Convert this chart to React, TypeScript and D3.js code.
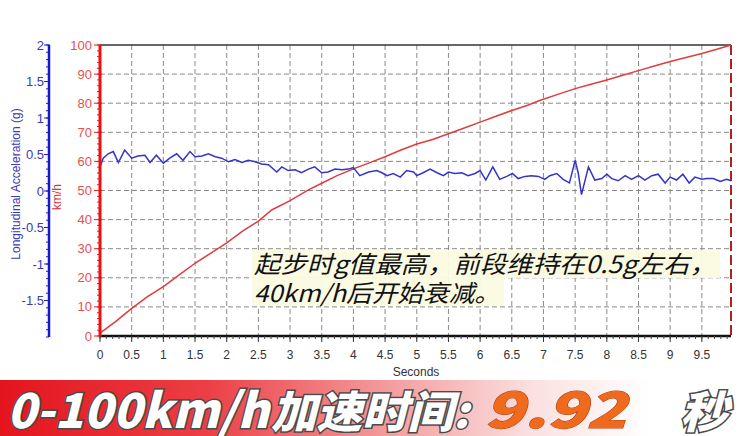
import React from "react";
import * as d3 from "d3";

const accelTime = [
  0, 0.05, 0.13, 0.21, 0.29, 0.39, 0.5, 0.6, 0.71, 0.79,
  0.89, 1.0, 1.1, 1.21, 1.31, 1.42, 1.5, 1.61, 1.71, 1.82,
  1.92, 2.03, 2.13, 2.24, 2.34, 2.45, 2.55, 2.66, 2.79, 2.87,
  2.97, 3.08, 3.18, 3.29, 3.39, 3.5, 3.6, 3.71, 3.82, 3.92,
  4.0, 4.1, 4.24, 4.37, 4.45, 4.53, 4.63, 4.74, 4.84, 4.95,
  5.0, 5.1, 5.21, 5.32, 5.42, 5.5, 5.6, 5.71, 5.81, 5.92,
  6.0, 6.09, 6.2, 6.31, 6.42, 6.51, 6.6, 6.71, 6.81, 6.92,
  7.02, 7.1, 7.21, 7.31, 7.41, 7.5, 7.55, 7.6, 7.71, 7.81,
  7.92, 8.0, 8.08, 8.18, 8.29, 8.39, 8.5, 8.6, 8.71, 8.81,
  8.92, 9.0, 9.1, 9.2, 9.3, 9.39, 9.5, 9.58, 9.68, 9.79,
  9.89, 9.96,
];
const accelG = [
  0.33, 0.45, 0.51, 0.54, 0.39, 0.56, 0.45, 0.48, 0.49, 0.39,
  0.49, 0.38, 0.45, 0.51, 0.42, 0.54, 0.47, 0.48, 0.51, 0.47,
  0.45, 0.4, 0.43, 0.39, 0.42, 0.4, 0.37, 0.36, 0.26, 0.33,
  0.28, 0.29, 0.25, 0.3, 0.33, 0.25, 0.26, 0.3, 0.29, 0.3,
  0.32, 0.21, 0.26, 0.28, 0.25, 0.21, 0.24, 0.19, 0.28, 0.26,
  0.21, 0.25, 0.3, 0.25, 0.21, 0.26, 0.24, 0.25, 0.21, 0.24,
  0.28, 0.15, 0.33, 0.16, 0.2, 0.24, 0.17, 0.2, 0.21, 0.2,
  0.16, 0.21, 0.24, 0.16, 0.11, 0.42, 0.24, -0.05, 0.33, 0.15,
  0.17, 0.23, 0.17, 0.14, 0.21, 0.16, 0.21, 0.15, 0.21, 0.23,
  0.11, 0.19, 0.15, 0.23, 0.11, 0.19, 0.16, 0.17, 0.17, 0.13,
  0.16, 0.14,
];

const speedTime = [
  0, 0.25, 0.5, 0.75, 1.0, 1.25, 1.5, 1.75, 2.0, 2.25, 2.5, 2.71, 3.0, 3.29,
  3.5, 3.75, 4.03, 4.25, 4.5, 4.75, 5.0, 5.25, 5.5, 5.75, 6.0, 6.25, 6.5,
  6.75, 6.95, 7.25, 7.5, 7.75, 8.0, 8.25, 8.5, 8.75, 9.0, 9.25, 9.5, 9.75, 9.96,
];
const speedKmh = [
  1, 5, 9.5, 13.5, 17, 21, 25, 28.5, 32, 36, 39.5, 43.3, 46.5, 50.2,
  52.5, 55.2, 57.7, 59.5, 61.6, 63.9, 66, 67.5, 69.5, 71.5, 73.5, 75.5, 77.5,
  79.3, 81, 83.2, 85, 86.5, 88, 89.6, 91.2, 92.8, 94.3, 95.7, 97.1, 98.6, 100,
];

const gTickLabels = ["2", "1.5", "1", "0.5", "0", "-0.5", "-1", "-1.5"];
const gTickValues = [2, 1.5, 1, 0.5, 0, -0.5, -1, -1.5];
const speedTickValues = [0, 10, 20, 30, 40, 50, 60, 70, 80, 90, 100];
const timeTickValues = [0, 0.5, 1, 1.5, 2, 2.5, 3, 3.5, 4, 4.5, 5, 5.5, 6, 6.5, 7, 7.5, 8, 8.5, 9, 9.5];

const noteLine1 = "起步时g值最高，前段维持在0.5g左右，";
const noteLine2 = "40km/h后开始衰减。";
const bannerLabel = "0-100km/h";
const bannerLabel2 = "加速时间:";
const bannerValue = "9.92";
const bannerUnit = "秒";

const W = 739;
const H = 436;
const L = 100;
const R = 731;
const T = 45;
const B = 336;

export default function App() {
  const x = d3.scaleLinear().domain([0, 9.96]).range([L, R]);
  const yS = d3.scaleLinear().domain([0, 100]).range([B, T]);
  const yG = d3.scaleLinear().domain([-2, 2]).range([337, T]);

  const speedLine = d3
    .line<number>()
    .x((_, i) => x(speedTime[i]))
    .y((d) => yS(d));
  const accelLine = d3
    .line<number>()
    .x((_, i) => x(accelTime[i]))
    .y((d) => yG(d));

  const minorG = d3.range(-2, 2.0001, 0.1);
  const minorS = d3.range(0, 100.001, 2);
  const minorT = d3.range(0, 9.96, 0.1);

  const axisFont = "'Liberation Sans', Arial, sans-serif";
  const cjk = "'Noto Sans CJK SC', sans-serif";

  return (
    <svg
      width={W}
      height={H}
      style={{ position: "absolute", left: 0, top: 0, background: "#fff" }}
    >
      <defs>
        <linearGradient id="bannerGrad" x1="0" x2="1" y1="0" y2="0">
          <stop offset="0%" stopColor="#e4141d" />
          <stop offset="28%" stopColor="#ec3f45" />
          <stop offset="52%" stopColor="#f49a9c" />
          <stop offset="72%" stopColor="#fbe0e0" />
          <stop offset="88%" stopColor="#ffffff" />
          <stop offset="100%" stopColor="#ffffff" />
        </linearGradient>
      </defs>
      <rect x={0} y={0} width={W} height={H} fill="#fff" />

      {/* grid */}
      {speedTickValues.slice(1, -1).map((v) => (
        <line key={"hg" + v} x1={L} x2={R} y1={yS(v)} y2={yS(v)} stroke="#8a8a8a" strokeDasharray="5 3" strokeWidth={1} />
      ))}
      {timeTickValues.slice(1).map((v) => (
        <line key={"vg" + v} x1={x(v)} x2={x(v)} y1={T} y2={B} stroke="#8a8a8a" strokeDasharray="5 3" strokeWidth={1} />
      ))}

      {/* frame */}
      <line x1={L} x2={R} y1={T} y2={T} stroke="#333" strokeWidth={1.5} />
      <line x1={R} x2={R} y1={T} y2={B} stroke="#b02020" strokeWidth={2} strokeDasharray="10 4" />

      {/* annotation */}
      <rect x={252} y={250} width={468} height={28} fill="#fbfbe2" opacity={0.95} />
      <rect x={252} y={278} width={252} height={28} fill="#fbfbe2" opacity={0.95} />
      <text x={254} y={273} fontFamily={cjk} fontSize={24} fontStyle="italic" fill="#111" textLength={462} lengthAdjust="spacingAndGlyphs">
        {noteLine1}
      </text>
      <text x={254} y={302} fontFamily={cjk} fontSize={24} fontStyle="italic" fill="#111" textLength={246} lengthAdjust="spacingAndGlyphs">
        {noteLine2}
      </text>

      {/* data lines */}
      <path d={speedLine(speedKmh) || ""} fill="none" stroke="#e03c3c" strokeWidth={1.5} />
      <path d={accelLine(accelG) || ""} fill="none" stroke="#3434c8" strokeWidth={1.5} />

      {/* x axis */}
      <line x1={L - 1} x2={R} y1={B} y2={B} stroke="#111" strokeWidth={2.5} />
      {minorT.map((v, i) => (
        <line key={"mt" + i} x1={x(v)} x2={x(v)} y1={B} y2={B + 3} stroke="#444" strokeWidth={1} />
      ))}
      {timeTickValues.map((v) => (
        <g key={"xt" + v}>
          <line x1={x(v)} x2={x(v)} y1={B} y2={B + 6} stroke="#333" strokeWidth={1} />
          <text x={x(v)} y={359} textAnchor="middle" fontFamily={axisFont} fontSize={12} fill="#333">
            {String(v)}
          </text>
        </g>
      ))}
      <text x={416} y={376} textAnchor="middle" fontFamily={axisFont} fontSize={12} fill="#333">
        Seconds
      </text>

      {/* red speed axis */}
      {minorS.map((v, i) => (
        <line key={"ms" + i} x1={L - 3} x2={L} y1={yS(v)} y2={yS(v)} stroke="#e02020" strokeWidth={1} />
      ))}
      {speedTickValues.map((v) => (
        <g key={"st" + v}>
          <line x1={L - 6} x2={L + 2} y1={yS(v)} y2={yS(v)} stroke="#e02020" strokeWidth={1} />
          <text x={92} y={yS(v) + 4.5} textAnchor="end" fontFamily={axisFont} fontSize={13} fill="#e85050">
            {String(v)}
          </text>
        </g>
      ))}
      <line x1={L} x2={L} y1={T} y2={B} stroke="#ee1010" strokeWidth={3} />
      <text transform={`translate(61,197) rotate(-90)`} textAnchor="middle" fontFamily={axisFont} fontSize={12} fill="#e03030">
        km/h
      </text>

      {/* blue g axis */}
      {minorG.map((v, i) => (
        <line key={"mg" + i} x1={46} x2={49} y1={yG(v)} y2={yG(v)} stroke="#2020c0" strokeWidth={1} />
      ))}
      {gTickValues.map((v, i) => (
        <g key={"gt" + v}>
          <line x1={44} x2={50} y1={yG(v)} y2={yG(v)} stroke="#2020c0" strokeWidth={1} />
          <text x={44} y={yG(v) + 4.5} textAnchor="end" fontFamily={axisFont} fontSize={13} fill="#3a3ab8">
            {gTickLabels[i]}
          </text>
        </g>
      ))}
      <line x1={49} x2={49} y1={T} y2={337} stroke="#1818c8" strokeWidth={2.5} />
      <text transform={`translate(20,184) rotate(-90)`} textAnchor="middle" fontFamily={axisFont} fontSize={12} fill="#3a3ab8">
        Longitudinal Acceleration (g)
      </text>

      {/* banner */}
      <rect x={0} y={380} width={W} height={56} fill="url(#bannerGrad)" />
      <g fontFamily={cjk} fontWeight={900} fontStyle="italic" style={{ paintOrder: "stroke" }}>
        <text x={7} y={428} fontSize={48} fill="#fff" stroke="#4a4a4a" strokeWidth={3} textLength={262} lengthAdjust="spacingAndGlyphs">
          {bannerLabel}
        </text>
        <text x={271} y={428} fontSize={44} fill="#fff" stroke="#4a4a4a" strokeWidth={3} textLength={198} lengthAdjust="spacingAndGlyphs">
          {bannerLabel2}
        </text>
        <text x={484} y={428} fontSize={50} fill="#f06a1e" stroke="#b04010" strokeWidth={1} textLength={142} lengthAdjust="spacingAndGlyphs">
          {bannerValue}
        </text>
        <text x={680} y={428} fontSize={44} fill="#fff" stroke="#4a4a4a" strokeWidth={3} textLength={48} lengthAdjust="spacingAndGlyphs">
          {bannerUnit}
        </text>
      </g>
    </svg>
  );
}
